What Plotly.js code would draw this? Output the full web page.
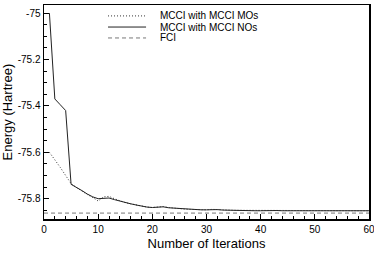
<!DOCTYPE html>
<html>
<head>
<meta charset="utf-8">
<script src="https://cdn.plot.ly/plotly-3.0.1.min.js"></script>
<style>html,body{margin:0;padding:0;background:#fff;}#chart{width:374px;height:264px;}</style>
</head>
<body>
<div id="chart"></div>
<script>
const iterations = [1,2,3,4,5,6,7,8,9,10,11,12,13,14,15,16,17,18,19,20,21,22,23,24,25,26,27,28,29,30,31,32,33,34,35,36,37,38,39,40,41,42,43,44,45,46,47,48,49,50,51,52,53,54,55,56,57,58,59,60];
const mccMOs = [-75.600,-75.630,-75.665,-75.700,-75.735,-75.752,-75.768,-75.782,-75.795,-75.810,-75.792,-75.790,-75.800,-75.810,-75.817,-75.822,-75.827,-75.832,-75.836,-75.838,-75.836,-75.834,-75.838,-75.841,-75.843,-75.845,-75.846,-75.847,-75.848,-75.848,-75.846,-75.846,-75.848,-75.849,-75.850,-75.850,-75.851,-75.851,-75.851,-75.851,-75.850,-75.850,-75.851,-75.851,-75.852,-75.852,-75.852,-75.852,-75.852,-75.851,-75.850,-75.851,-75.852,-75.852,-75.852,-75.852,-75.852,-75.852,-75.852,-75.852];
const mccNOs = [-75.000,-75.370,-75.395,-75.420,-75.738,-75.750,-75.765,-75.780,-75.792,-75.800,-75.797,-75.797,-75.804,-75.811,-75.817,-75.822,-75.827,-75.832,-75.836,-75.838,-75.836,-75.835,-75.839,-75.841,-75.843,-75.845,-75.846,-75.847,-75.848,-75.848,-75.846,-75.847,-75.849,-75.850,-75.850,-75.851,-75.851,-75.851,-75.852,-75.852,-75.851,-75.851,-75.851,-75.852,-75.852,-75.852,-75.852,-75.852,-75.852,-75.851,-75.850,-75.851,-75.852,-75.852,-75.852,-75.852,-75.852,-75.852,-75.852,-75.852];
const fciX = [0, 60];
const fciY = [-75.862, -75.862];
const seriesNames = ["MCCI with MCCI MOs", "MCCI with MCCI NOs", "FCI"];
const yTicks = [-75, -75.2, -75.4, -75.6, -75.8];
const yTickText = ["-75", "-75.2", "-75.4", "-75.6", "-75.8"];

const font = "Liberation Sans, Arial, sans-serif";
const styles = [
  {color: "#333", width: 1, dash: "1px,2px"},
  {color: "#222", width: 1, dash: "solid"},
  {color: "#777", width: 1, dash: "4px,3px"}
];
const traces = [
  {x: iterations, y: mccMOs, name: seriesNames[0], mode: "lines", line: styles[0]},
  {x: iterations, y: mccNOs, name: seriesNames[1], mode: "lines", line: styles[1]},
  {x: fciX, y: fciY, name: seriesNames[2], mode: "lines", line: styles[2]}
];

// manual compact legend (paper coordinates of the plot area)
const legendRows = [0.949, 0.897, 0.846];
const shapes = [], annotations = [];
seriesNames.forEach((n, i) => {
  shapes.push({type: "line", xref: "paper", yref: "paper", x0: 0.197, x1: 0.314, y0: legendRows[i], y1: legendRows[i], line: styles[i]});
  annotations.push({xref: "paper", yref: "paper", x: 0.352, y: legendRows[i], xanchor: "left", yanchor: "middle", text: n, showarrow: false, font: {size: 10, family: font, color: "#000"}});
});

const layout = {
  width: 374, height: 264,
  margin: {l: 44, r: 5, t: 5, b: 45},
  paper_bgcolor: "#fff", plot_bgcolor: "#fff",
  font: {family: font, color: "#000", size: 10},
  showlegend: false,
  shapes: shapes, annotations: annotations,
  xaxis: {
    range: [0, 60], tickvals: [0,10,20,30,40,50,60], ticks: "inside", ticklen: 5, tickcolor: "#000",
    ticklabeloverflow: "allow",
    showline: true, linecolor: "#000", linewidth: 1.5, mirror: true, showgrid: false, zeroline: false,
    minor: {dtick: 2, ticks: "inside", ticklen: 3, tickcolor: "#000", showgrid: false},
    title: {text: "Number of Iterations", font: {size: 13, family: font}, standoff: 5},
    tickfont: {size: 10, family: font}
  },
  yaxis: {
    range: [-75.8875, -74.965], tickvals: yTicks, ticktext: yTickText, ticks: "inside", ticklen: 5, tickcolor: "#000",
    ticklabeloverflow: "allow",
    showline: true, linecolor: "#000", linewidth: 1.5, mirror: true, showgrid: false, zeroline: false,
    minor: {dtick: 0.05, ticks: "inside", ticklen: 3, tickcolor: "#000", showgrid: false},
    title: {text: "Energy (Hartree)", font: {size: 13, family: font}, standoff: 4},
    tickfont: {size: 10, family: font}
  }
};
Plotly.newPlot("chart", traces, layout, {staticPlot: true, displayModeBar: false});
</script>
</body>
</html>
